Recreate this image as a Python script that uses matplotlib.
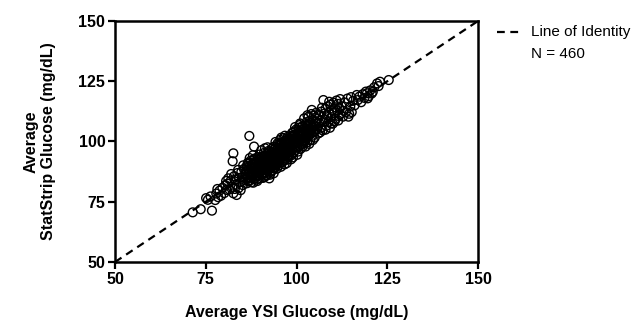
import numpy as np
import matplotlib
matplotlib.use("Agg")
import matplotlib.pyplot as plt
from matplotlib.lines import Line2D

plt.rcParams['font.family'] = ['Liberation Sans', 'DejaVu Sans']

# values (mg/dL), grouped by YSI range
ysi_lo = [71.4, 73.6, 76.7, 75.1, 75.6, 77.6, 76.3, 77.9, 78.4, 78.8, 79.2, 79.6, 80.1, 80.4, 80.8, 78.2,
          81.0, 81.5, 81.9, 82.3, 82.6, 83.5, 82.4, 82.6, 82.8, 83.1, 83.4, 83.7, 84.0, 84.2, 84.5, 84.8,
          85.0, 85.2, 85.5, 85.7, 85.9, 81.2, 83.9, 84.6, 85.3, 82.0, 83.0, 80.6]
strip_lo = [70.6, 71.9, 71.3, 76.5, 75.8, 75.7, 77.2, 78.4, 76.9, 79.6, 77.5, 80.8, 78.6, 81.9, 79.9, 80.3,
            82.5, 80.1, 83.8, 81.2, 78.5, 77.8, 91.8, 95.1, 85.6, 84.2, 82.0, 86.9, 80.6, 84.9, 83.1, 87.4,
            85.2, 81.9, 88.6, 84.0, 86.3, 84.7, 88.2, 79.8, 90.1, 86.5, 80.3, 83.6]

ysi_c = [86.1, 86.2, 86.3, 86.4, 86.5, 86.6, 86.7, 86.8, 86.9, 87.0, 87.0, 87.1, 87.2, 87.3, 87.4, 87.5,
         87.6, 87.7, 87.8, 87.9, 88.0, 88.1, 88.2, 88.3, 88.3, 88.4, 88.5, 88.6, 88.7, 88.8, 88.9, 89.0,
         89.1, 89.2, 89.3, 89.4, 89.5, 89.6, 89.7, 89.8, 89.9, 90.0, 86.4, 86.9, 87.3, 87.8, 88.2, 88.7,
         89.2, 89.6, 86.0, 86.7, 87.6, 88.9, 89.4, 87.1, 88.0, 89.8]
strip_c = [84.6, 87.8, 89.9, 82.7, 86.1, 91.2, 85.0, 88.4, 83.8, 102.3, 87.0, 90.0, 84.9, 86.3, 92.1, 88.8,
           83.1, 85.7, 90.6, 87.4, 89.3, 82.9, 86.2, 97.9, 91.4, 84.6, 88.0, 93.0, 85.8, 89.9, 87.1, 91.9,
           84.2, 86.7, 90.4, 88.3, 93.5, 85.9, 89.1, 91.0, 87.6, 84.8, 88.9, 90.8, 84.0, 86.0, 92.6, 90.9,
           83.6, 92.4, 86.8, 83.4, 89.7, 85.5, 86.0, 93.1, 94.3, 94.6]

ysi_d = [90.1, 90.2, 90.3, 90.4, 90.5, 90.6, 90.7, 90.8, 90.9, 91.0, 91.0, 91.1, 91.2, 91.3, 91.4, 91.5,
         91.6, 91.7, 91.8, 91.9, 92.0, 92.1, 92.2, 92.3, 92.4, 92.5, 92.6, 92.7, 92.8, 92.9, 93.0, 93.1,
         93.2, 93.3, 93.4, 93.5, 93.6, 93.7, 93.8, 93.9, 94.0, 90.3, 90.8, 91.3, 91.8, 92.2, 92.7, 93.1,
         93.6, 94.0, 90.6, 91.1, 91.6, 92.1, 92.6, 93.0, 93.4, 93.9, 90.0, 90.4, 91.9, 92.4, 92.9, 93.3,
         93.7, 90.9, 91.4, 92.0, 93.8, 91.2, 92.5]
strip_d = [88.2, 91.5, 86.0, 93.6, 89.4, 86.9, 92.3, 90.1, 86.8, 95.2, 88.7, 91.1, 87.2, 93.9, 89.8, 86.1,
           92.5, 90.4, 88.1, 94.8, 91.7, 87.6, 89.5, 96.1, 92.9, 88.9, 90.8, 94.2, 87.3, 91.6, 93.4, 89.6,
           97.0, 90.9, 88.0, 95.5, 92.2, 86.8, 90.3, 94.1, 91.4, 96.4, 84.9, 97.2, 85.9, 93.9, 86.2, 95.6,
           89.0, 96.9, 90.9, 94.1, 89.0, 90.5, 95.8, 92.1, 93.0, 88.8, 92.8, 88.0, 92.6, 91.1, 89.4, 91.8,
           97.8, 93.7, 91.9, 97.6, 93.3, 85.3, 84.7]

ysi_e = [94.1, 94.2, 94.3, 94.4, 94.5, 94.6, 94.7, 94.8, 94.9, 95.0, 95.1, 95.2, 95.3, 95.4, 95.5, 95.6,
         95.7, 95.8, 95.9, 96.0, 96.1, 96.2, 96.3, 96.4, 96.5, 96.6, 96.7, 96.8, 96.9, 97.0, 97.1, 97.2,
         97.3, 97.4, 97.5, 97.6, 97.7, 97.8, 97.9, 98.0, 94.3, 94.8, 95.2, 95.7, 96.1, 96.6, 97.0, 97.5,
         98.0, 94.5, 95.0, 95.5, 96.0, 96.4, 96.9, 97.4, 97.9, 94.2, 95.8, 96.7, 97.7, 94.7, 95.3, 96.3,
         97.2, 97.8, 95.6, 94.9, 96.8, 98.0]
strip_e = [93.0, 89.6, 97.7, 91.8, 95.3, 88.7, 93.6, 99.3, 91.2, 96.0, 94.4, 90.1, 98.2, 92.7, 100.7, 95.0,
           89.5, 97.1, 93.3, 99.6, 91.5, 96.6, 94.2, 101.4, 97.9, 92.0, 95.4, 99.0, 93.8, 97.3, 100.3, 94.9,
           91.0, 98.6, 96.2, 102.0, 93.4, 99.8, 95.7, 97.6, 94.6, 96.7, 92.1, 98.9, 97.0, 100.2, 95.8, 92.5,
           100.9, 90.4, 98.8, 96.7, 94.8, 98.3, 96.5, 94.0, 98.0, 99.8, 101.6, 90.5, 101.1, 92.3, 95.7, 92.9,
           99.4, 96.8, 93.6, 97.5, 102.4, 93.9]

ysi_f = [98.1, 98.2, 98.3, 98.4, 98.5, 98.6, 98.7, 98.8, 98.9, 99.0, 99.1, 99.2, 99.3, 99.4, 99.5, 99.6,
         99.7, 99.8, 99.9, 100.0, 100.1, 100.2, 100.3, 100.4, 100.5, 100.6, 100.7, 100.8, 100.9, 101.0,
         101.1, 101.2, 101.3, 101.4, 101.5, 101.6, 101.7, 101.8, 101.9, 102.0, 98.5, 99.0, 99.6, 100.2,
         100.8, 101.4, 102.0, 98.9, 99.4, 100.5, 101.0, 101.8]
strip_f = [99.0, 95.6, 102.3, 97.2, 100.5, 94.3, 98.4, 103.6, 96.6, 101.2, 99.7, 95.3, 104.1, 98.0, 102.7,
           100.1, 96.4, 99.2, 105.0, 101.8, 97.5, 103.4, 99.9, 95.8, 102.5, 100.6, 105.7, 98.3, 103.0,
           101.1, 96.9, 104.6, 99.5, 102.1, 106.2, 100.3, 97.9, 103.9, 101.5, 105.1, 92.6, 93.4, 106.0,
           94.5, 106.8, 98.6, 99.4, 101.9, 100.8, 104.4, 107.5, 102.8]

ysi_g = [102.1, 102.2, 102.3, 102.4, 102.5, 102.6, 102.7, 102.8, 102.9, 103.0, 103.1, 103.2, 103.3,
         103.4, 103.5, 103.6, 103.7, 103.8, 103.9, 104.0, 104.1, 104.2, 104.3, 104.4, 104.5, 104.6,
         104.7, 104.8, 104.9, 105.0, 105.2, 105.4, 105.6, 105.8, 106.0, 102.5, 103.5, 104.5, 105.5,
         106.0, 105.1, 103.0]
strip_g = [109.6, 103.2, 100.0, 106.6, 104.2, 101.3, 108.0, 105.5, 99.6, 103.9, 107.1, 101.8, 110.3,
           105.0, 102.9, 108.6, 104.6, 100.5, 106.9, 103.5, 111.4, 113.1, 105.9, 102.4, 109.0, 107.0,
           104.0, 110.7, 106.3, 101.6, 108.2, 111.9, 105.3, 109.5, 103.3, 97.9, 99.0, 100.6, 107.6,
           111.0, 104.4, 110.9]

ysi_h = [106.2, 106.4, 106.6, 106.8, 107.0, 107.2, 107.4, 107.6, 107.8, 108.0, 108.2, 108.4, 108.6,
         108.8, 109.0, 109.2, 109.4, 109.6, 109.8, 110.0, 110.2, 110.4, 110.6, 110.8, 111.0, 111.2,
         111.4, 111.6, 111.8, 112.0, 106.5, 108.0, 109.5, 110.5, 111.5, 112.0, 107.0, 109.0]
strip_h = [107.8, 110.6, 105.4, 112.4, 108.9, 104.6, 117.2, 111.5, 109.2, 113.6, 106.5, 110.8, 114.6,
           108.0, 112.0, 105.7, 115.3, 110.1, 113.0, 107.4, 116.1, 111.8, 114.2, 109.4, 117.0, 112.9,
           115.6, 110.6, 113.8, 117.6, 103.8, 104.9, 107.5, 108.3, 108.7, 111.3, 114.0, 116.5]

ysi_hi = [112.4, 112.8, 113.2, 113.6, 114.0, 114.3, 114.5, 114.8, 115.2, 115.6, 116.0, 116.6, 116.9,
          117.3, 117.8, 113.0, 115.0, 118.2, 118.7, 119.1, 119.4, 119.9, 120.3, 120.7, 121.4, 122.2,
          122.6, 123.0, 125.4, 119.6, 121.0]
strip_hi = [114.6, 110.3, 116.2, 112.1, 117.8, 110.3, 111.5, 114.5, 112.2, 116.9, 115.0, 119.3, 117.2,
            118.6, 116.3, 112.7, 118.4, 119.6, 118.1, 120.7, 120.0, 118.8, 121.2, 119.9, 122.5, 124.1,
            123.0, 124.8, 125.5, 117.9, 120.6]

ysi = ysi_lo + ysi_c + ysi_d + ysi_e + ysi_f + ysi_g + ysi_h + ysi_hi
statstrip = strip_lo + strip_c + strip_d + strip_e + strip_f + strip_g + strip_h + strip_hi

ticks = [50, 75, 100, 125, 150]
n_label = "N = 460"

fig = plt.figure(figsize=(6.44, 3.24), dpi=100)
ax = fig.add_axes([0.1786, 0.1914, 0.5637, 0.7438])

ax.plot([50, 150], [50, 150], color='black', lw=1.6, ls=(0, (3.5, 2.5)), zorder=1)
ax.scatter(ysi, statstrip, s=40, facecolors='none', edgecolors='black', linewidths=1.0, zorder=2)

ax.set_xlim(50, 150)
ax.set_ylim(50, 150)
ax.set_xticks(ticks)
ax.set_yticks(ticks)
for sp in ax.spines.values():
    sp.set_linewidth(1.8)
ax.tick_params(direction='out', length=5, width=1.6, labelsize=11.5, pad=2)
for lab in ax.get_xticklabels() + ax.get_yticklabels():
    lab.set_fontweight('bold')

ax.set_xlabel("Average YSI Glucose (mg/dL)", fontsize=11.5, fontweight='bold', labelpad=13)
ax.set_ylabel("Average\nStatStrip Glucose (mg/dL)", fontsize=11.5, fontweight='bold', labelpad=16)

# legend at the right
fig.add_artist(Line2D([497/644, 521/644], [1 - 32/324, 1 - 32/324], color='black', lw=1.6,
                      ls=(0, (3.5, 2.5))))
fig.text(531/644, 1 - 32/324, "Line of Identity", fontsize=11, va='center', ha='left')
fig.text(531/644, 1 - 54/324, n_label, fontsize=11, va='center', ha='left')

fig.savefig("out.png", dpi=100)
